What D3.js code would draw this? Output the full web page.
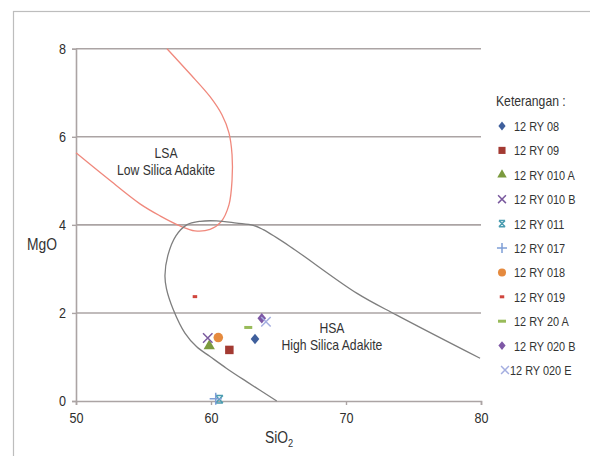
<!DOCTYPE html>
<html><head><meta charset="utf-8">
<script src="https://cdn.jsdelivr.net/npm/d3@7"></script>
<style>
html,body{margin:0;padding:0;background:#fff;}
svg{display:block;font-family:"Liberation Sans",Arial,sans-serif;}
</style></head>
<body><svg id="chart" width="590" height="456"></svg>
<script>
// ---- data ----
const sampleNames = ["12 RY 08","12 RY 09","12 RY 010 A","12 RY 010 B","12 RY 011","12 RY 017","12 RY 018","12 RY 019","12 RY 20 A","12 RY 020 B","12 RY 020 E"];
const sio2Values = [63.26, 61.36, 59.87, 59.76, 60.61, 60.35, 60.54, 58.81, 62.76, 63.76, 64.07];
const mgoValues  = [1.41, 1.16, 1.25, 1.43, 0.04, 0.05, 1.44, 2.37, 1.67, 1.88, 1.80];
const markerKinds = ["diamond","square","triangle","times","xbar","plus","circle","dashSmall","dash","diamond","times"];
const markerColors = ["#3F5F9C","#A33A32","#7B9A3E","#7A5A9E","#4A9CB0","#7F9FD6","#E58A3E","#D0463E","#98BB59","#7E58A6","#A4AEE0"];
const xTicks = [50,60,70,80];
const yTicks = [0,2,4,6,8];
const lsaBoundary = [[50,5.636],[52.37,5.045],[54.74,4.477],[56.22,4.205],[57.7,3.977],[58.81,3.864],[59.93,3.898],[60.74,4.068],[61.33,4.455],[61.56,5.02],[61.56,5.59],[61.33,6.09],[60.81,6.5],[59.93,6.91],[58.44,7.43],[56.74,8.0]];
const hsaBoundary = [[64.87,0.0],[62.64,0.44],[61.16,0.74],[59.93,1.01],[58.94,1.23],[58.07,1.54],[57.21,2.07],[56.7,2.55],[56.59,2.85],[56.8,3.3],[57.4,3.75],[58.2,4.0],[59.2,4.08],[60.42,4.09],[61.9,4.04],[63.13,3.99],[63.87,3.89],[65.85,3.51],[70.79,2.45],[73.76,1.95],[79.93,0.97]];
const fieldLabels = [
  {lines:["LSA","Low Silica Adakite"], x:56.67, y:5.52},
  {lines:["HSA","High Silica Adakite"], x:68.96, y:1.545}
];

// ---- drawing ----
const svg = d3.select("#chart");
const x = d3.scaleLinear().domain([50,80]).range([76,481]);
const y = d3.scaleLinear().domain([0,8]).range([401,48.7]);
const NARROW = 0.84;
function narrowText(parent, tx, ty, size, str, anchor){
  return parent.append("text").attr("transform",`translate(${tx},${ty}) scale(${NARROW},1)`)
    .attr("text-anchor",anchor||"start").attr("fill","#333").style("font-size",size+"px").text(str);
}

svg.append("rect").attr("x",13.5).attr("y",11.5).attr("width",620).attr("height",520)
  .attr("fill","none").attr("stroke","#BDBDBD").attr("stroke-width",1.2);

// gridlines
svg.append("g").selectAll("line").data(yTicks.filter(d=>d>0)).join("line")
  .attr("x1",x(50)).attr("x2",x(80)).attr("y1",d=>y(d)).attr("y2",d=>y(d))
  .attr("stroke","#ABA4A4").attr("stroke-width",1.6);

// axes
const xAxis = svg.append("g").attr("transform",`translate(0,${y(0)})`)
  .call(d3.axisBottom(x).tickValues(xTicks).tickSize(4).tickPadding(7));
const yAxis = svg.append("g").attr("transform",`translate(${x(50)},0)`)
  .call(d3.axisLeft(y).tickValues(yTicks).tickSize(4).tickPadding(6));
[xAxis,yAxis].forEach(g=>{
  g.select(".domain").attr("stroke","#ABA4A4").attr("stroke-width",1.6);
  g.selectAll(".tick line").attr("stroke","#ABA4A4").attr("stroke-width",1.4);
  g.selectAll(".tick text").attr("fill","#2E2E2E").style("font-size","15px").style("font-family","inherit")
    .attr("transform",function(){const tx=+d3.select(this).attr("x")||0;return `translate(${tx},0) scale(${NARROW},1) translate(${-tx},0)`;});
});

// field boundaries
const line = d3.line().x(d=>x(d[0])).y(d=>y(d[1])).curve(d3.curveCatmullRom.alpha(0.5));
svg.append("path").attr("d",line(lsaBoundary)).attr("fill","none").attr("stroke","#F0887C").attr("stroke-width",1.3);
svg.append("path").attr("d",line(hsaBoundary)).attr("fill","none").attr("stroke","#7E7E7E").attr("stroke-width",1.3);

// field labels
fieldLabels.forEach(f=>{
  f.lines.forEach((s,i)=>narrowText(svg, x(f.x), y(f.y)+i*17, 14.5, s, "middle"));
});

// axis titles
narrowText(svg, 42, 250, 16.5, "MgO", "middle");
const xt = narrowText(svg, 279, 443, 16.5, "", "middle");
xt.append("tspan").text("SiO");
xt.append("tspan").attr("dy",4).style("font-size","11px").text("2");

// marker symbols
const dashSym = w => ({draw(ctx,size){ctx.rect(-w/2,-1.5,w,3);}});
const diamondSym = {draw(ctx,size){const s=Math.sqrt(size)/2;const w=s*0.82,h=s;
  ctx.moveTo(0,-h);ctx.lineTo(w,0);ctx.lineTo(0,h);ctx.lineTo(-w,0);ctx.closePath();}};
const xbarSym = {draw(ctx,size){const r=Math.sqrt(size)/2;
  ctx.moveTo(-r,-r);ctx.lineTo(r,r);ctx.moveTo(r,-r);ctx.lineTo(-r,r);
  ctx.moveTo(-r,-r);ctx.lineTo(r,-r);ctx.moveTo(-r,r);ctx.lineTo(r,r);}};
const symDefs = {
  diamond:{type:diamondSym,size:110,fill:true},
  square:{type:d3.symbolSquare,size:72,fill:true},
  triangle:{type:d3.symbolTriangle,size:55,fill:true},
  circle:{type:d3.symbolCircle,size:72,fill:true},
  times:{type:d3.symbolTimes,size:60,fill:false},
  plus:{type:d3.symbolPlus,size:50,fill:false},
  xbar:{type:xbarSym,size:55,fill:false},
  dash:{type:dashSym(8),size:1,fill:true},
  dashSmall:{type:dashSym(4.5),size:1,fill:true}
};
function drawMarker(g,kind,color,scale){
  const d = symDefs[kind];
  const p = g.append("path").attr("d",d3.symbol().type(d.type).size(d.size*scale)());
  if(d.fill) p.attr("fill",color).attr("stroke","none");
  else p.attr("fill","none").attr("stroke",color).attr("stroke-width",1.5);
  return p;
}

const pts = svg.append("g");
sampleNames.forEach((n,i)=>{
  const g = pts.append("g").attr("transform",`translate(${x(sio2Values[i])},${y(mgoValues[i])})`);
  drawMarker(g,markerKinds[i],markerColors[i],1);
});

// legend
const lg = svg.append("g");
narrowText(lg, 496, 106, 14.5, "Keterangan :");
sampleNames.forEach((n,i)=>{
  const yy = 126 + i*24.4;
  const g = lg.append("g").attr("transform",`translate(${i===10?505:502},${yy})`);
  drawMarker(g,markerKinds[i],markerColors[i],0.7);
  narrowText(lg, i===10?510:514, yy+5, 13, n);
});
</script></body></html>
